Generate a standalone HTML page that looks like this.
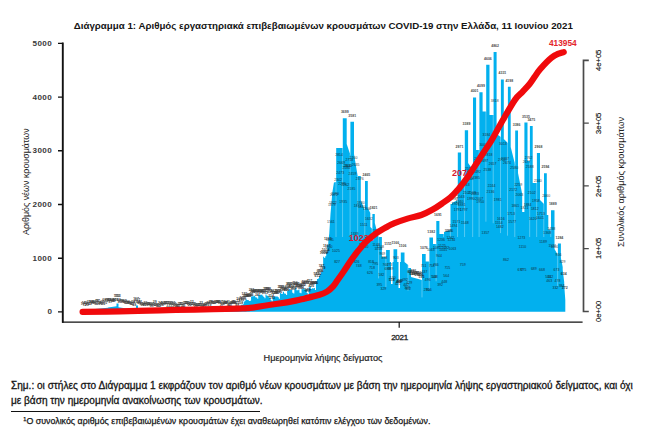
<!DOCTYPE html>
<html><head><meta charset="utf-8">
<style>
html,body{margin:0;padding:0;background:#fff;}
body{width:655px;height:436px;position:relative;overflow:hidden;font-family:"Liberation Sans",sans-serif;color:#151515;}
.t{position:absolute;white-space:nowrap;line-height:1;}
svg{position:absolute;left:0;top:0;}
.yl{font-size:8.1px;font-weight:bold;color:#3a3a3a;letter-spacing:0.35px;}
.ry{font-size:7.6px;transform-origin:0 0;transform:rotate(-90deg);color:#111;-webkit-text-stroke:0.15px #111;}
.rot{transform-origin:0 0;transform:rotate(-90deg);}
</style></head><body>
<svg width="655" height="436" viewBox="0 0 655 436">
<path d="M82.0 311.8V311.3L95.0 309.3V311.8ZM95.0 311.8V309.0L108.0 307.8V311.8ZM108.0 311.8V307.5L116.5 306.3V311.8ZM116.5 311.8V303.6L118.5 303.6V311.8ZM118.5 311.8V307.3L128.0 308.8V311.8ZM128.0 311.8V308.8L136.0 309.3V311.8ZM136.0 311.8V305.5L138.0 305.5V311.8ZM138.0 311.8V309.5L160.0 310.5V311.8ZM160.0 311.8V310.6L200.0 310.6V311.8ZM200.0 311.8V310.6L238.0 309.2V311.8ZM328.3 311.8V241.8L329.3 233.3V311.8ZM329.3 311.8V233.0L330.5 214.0V311.8ZM330.5 311.8V214.0L332.4 192.0V311.8ZM332.4 311.8V192.0L333.9 182.8V311.8ZM333.9 311.8V182.5L336.2 182.0V311.8ZM336.2 311.8V148.1L342.8 148.1V311.8ZM342.8 311.8V118.3L346.7 118.3V311.8ZM346.7 311.8V144.0L350.4 155.0V311.8ZM350.4 311.8V121.7L354.0 121.7V311.8ZM354.0 311.8V154.0L358.0 178.0V311.8ZM358.0 311.8V176.0L360.8 176.0V311.8ZM360.8 311.8V200.0L365.0 211.0V311.8ZM365.0 311.8V181.0L367.8 181.0V311.8ZM367.8 311.8V208.0L370.3 213.0V311.8ZM370.3 311.8V227.0L372.4 229.0V311.8ZM372.4 311.8V214.0L374.8 214.0V311.8ZM374.8 311.8V223.0L378.8 238.0V311.8ZM378.8 311.8V237.0L381.9 237.0V311.8ZM381.9 311.8V257.0L386.1 257.0V311.8ZM386.1 311.8V250.0L389.8 250.0V311.8ZM389.8 311.8V262.0L391.0 262.0V311.8ZM391.0 311.8V284.0L392.6 284.0V311.8ZM392.6 311.8V262.0L393.5 262.0V311.8ZM393.5 311.8V249.2L397.2 249.2V311.8ZM397.2 311.8V262.0L398.5 262.0V311.8ZM398.5 311.8V288.0L400.0 288.0V311.8ZM400.0 311.8V262.0L400.8 262.0V311.8ZM400.8 311.8V252.4L404.5 252.4V311.8ZM404.5 311.8V262.0L408.2 265.0V311.8ZM408.2 311.8V268.0L411.0 268.0V311.8ZM411.0 311.8V277.0L422.0 280.0V311.8ZM422.0 311.8V254.0L425.7 254.0V311.8ZM425.7 311.8V261.5L429.4 261.5V311.8ZM429.4 311.8V237.6L433.0 237.6V311.8ZM433.0 311.8V244.0L436.3 244.0V311.8ZM436.3 311.8V221.0L439.4 221.0V311.8ZM439.4 311.8V234.0L444.0 234.0V311.8ZM444.0 311.8V232.0L450.5 230.0V311.8ZM450.5 311.8V204.0L452.0 204.0V311.8ZM452.0 311.8V203.0L457.8 200.0V311.8ZM457.8 311.8V152.6L461.1 152.6V311.8ZM461.1 311.8V183.0L464.8 183.0V311.8ZM464.8 311.8V130.2L468.1 130.2V311.8ZM468.1 311.8V163.0L473.0 170.0V311.8ZM473.0 311.8V97.4L476.1 97.4V311.8ZM476.1 311.8V150.0L479.4 150.0V311.8ZM479.4 311.8V92.3L482.6 92.3V311.8ZM482.6 311.8V111.6L486.2 111.6V311.8ZM486.2 311.8V64.8L489.5 64.8V311.8ZM489.5 311.8V115.0L493.6 115.0V311.8ZM493.6 311.8V51.9L496.6 51.9V311.8ZM496.6 311.8V134.0L500.9 137.0V311.8ZM500.9 311.8V79.4L503.8 79.4V311.8ZM503.8 311.8V139.0L507.9 143.0V311.8ZM507.9 311.8V86.8L510.7 86.8V311.8ZM510.7 311.8V147.0L515.2 165.0V311.8ZM515.2 311.8V130.6L518.0 130.6V311.8ZM518.0 311.8V173.0L522.2 194.0V311.8ZM522.2 311.8V212.0L524.4 212.0V311.8ZM524.4 311.8V122.5L527.5 122.5V311.8ZM527.5 311.8V161.0L529.9 161.0V311.8ZM529.9 311.8V126.1L532.7 126.1V311.8ZM532.7 311.8V183.0L536.9 183.0V311.8ZM536.9 311.8V153.1L540.0 153.1V311.8ZM540.0 311.8V200.0L544.0 204.0V311.8ZM544.0 311.8V173.3L546.8 173.3V311.8ZM546.8 311.8V215.0L548.3 215.0V311.8ZM548.3 311.8V229.5L551.0 229.5V311.8ZM551.0 311.8V210.3L554.5 210.3V311.8ZM554.5 311.8V249.0L557.9 255.0V311.8ZM557.9 311.8V243.5L560.9 243.5V311.8ZM560.9 311.8V258.0L562.7 267.0V311.8ZM562.7 311.8V270.0L564.2 282.0V311.8ZM564.2 311.8V285.0L565.3 300.0V311.8ZM237.67 311.8V307.9h1.04V311.8ZM238.70 311.8V306.4h1.04V311.8ZM239.73 311.8V306.0h1.04V311.8ZM240.76 311.8V304.8h1.04V311.8ZM241.79 311.8V304.8h1.04V311.8ZM242.82 311.8V304.3h1.04V311.8ZM243.85 311.8V301.4h1.04V311.8ZM244.88 311.8V300.6h1.04V311.8ZM245.91 311.8V299.4h1.04V311.8ZM246.94 311.8V299.9h1.04V311.8ZM247.97 311.8V300.3h1.04V311.8ZM249.00 311.8V301.1h1.04V311.8ZM250.03 311.8V300.7h1.04V311.8ZM251.06 311.8V296.7h1.04V311.8ZM252.09 311.8V296.3h1.04V311.8ZM253.12 311.8V296.3h1.04V311.8ZM254.15 311.8V295.7h1.04V311.8ZM255.18 311.8V297.2h1.04V311.8ZM256.21 311.8V297.5h1.04V311.8ZM257.24 311.8V298.8h1.04V311.8ZM258.27 311.8V294.6h1.04V311.8ZM259.30 311.8V295.4h1.04V311.8ZM260.33 311.8V295.0h1.04V311.8ZM261.36 311.8V294.5h1.04V311.8ZM262.39 311.8V295.7h1.04V311.8ZM263.42 311.8V297.1h1.04V311.8ZM264.45 311.8V298.2h1.04V311.8ZM265.48 311.8V294.6h1.04V311.8ZM266.51 311.8V295.7h1.04V311.8ZM267.54 311.8V295.8h1.04V311.8ZM268.57 311.8V297.2h1.04V311.8ZM269.60 311.8V297.9h1.04V311.8ZM270.63 311.8V300.3h1.04V311.8ZM271.66 311.8V301.5h1.04V311.8ZM272.69 311.8V296.7h1.04V311.8ZM273.72 311.8V296.8h1.04V311.8ZM274.75 311.8V296.4h1.04V311.8ZM275.78 311.8V296.4h1.04V311.8ZM276.81 311.8V296.5h1.04V311.8ZM277.84 311.8V297.2h1.04V311.8ZM278.87 311.8V298.7h1.04V311.8ZM279.90 311.8V293.0h1.04V311.8ZM280.93 311.8V293.7h1.04V311.8ZM281.96 311.8V293.7h1.04V311.8ZM282.99 311.8V291.8h1.04V311.8ZM284.02 311.8V293.4h1.04V311.8ZM285.05 311.8V293.8h1.04V311.8ZM286.08 311.8V294.9h1.04V311.8ZM287.11 311.8V290.7h1.04V311.8ZM288.14 311.8V290.5h1.04V311.8ZM289.17 311.8V289.0h1.04V311.8ZM290.20 311.8V290.1h1.04V311.8ZM291.23 311.8V289.7h1.04V311.8ZM292.26 311.8V292.8h1.04V311.8ZM293.29 311.8V293.6h1.04V311.8ZM294.32 311.8V289.5h1.04V311.8ZM295.35 311.8V287.9h1.04V311.8ZM296.38 311.8V290.3h1.04V311.8ZM297.41 311.8V290.2h1.04V311.8ZM298.44 311.8V289.6h1.04V311.8ZM299.47 311.8V292.8h1.04V311.8ZM300.50 311.8V293.3h1.04V311.8ZM301.53 311.8V288.7h1.04V311.8ZM302.56 311.8V289.2h1.04V311.8ZM303.59 311.8V288.3h1.04V311.8ZM304.62 311.8V289.8h1.04V311.8ZM305.65 311.8V289.4h1.04V311.8ZM306.68 311.8V293.0h1.04V311.8ZM307.71 311.8V294.8h1.04V311.8ZM308.74 311.8V287.2h1.04V311.8ZM309.77 311.8V286.5h1.04V311.8ZM310.80 311.8V288.9h1.04V311.8ZM311.83 311.8V288.3h1.04V311.8ZM312.86 311.8V288.5h1.04V311.8ZM313.89 311.8V287.9h1.04V311.8ZM314.92 311.8V290.0h1.04V311.8ZM315.95 311.8V281.2h1.04V311.8ZM316.98 311.8V279.0h1.04V311.8ZM318.01 311.8V278.5h1.04V311.8ZM319.04 311.8V275.9h1.04V311.8ZM320.07 311.8V274.0h1.04V311.8ZM321.10 311.8V271.7h1.04V311.8ZM322.13 311.8V271.6h1.04V311.8ZM323.16 311.8V256.8h1.04V311.8ZM324.19 311.8V258.0h1.04V311.8ZM325.22 311.8V256.3h1.04V311.8ZM326.25 311.8V252.3h1.04V311.8ZM327.28 311.8V245.0h1.04V311.8ZM328.31 311.8V246.8h1.04V311.8Z" fill="#02b0ee"/>
<g fill="#fff" opacity="0.36"><rect x="335.55" y="181.7" width="0.9" height="55.3"/><rect x="342.15" y="147.6" width="0.9" height="89.4"/><rect x="349.65" y="153.9" width="0.9" height="83.1"/><rect x="357.25" y="176.3" width="0.9" height="60.7"/><rect x="364.35" y="210.2" width="0.9" height="26.8"/><rect x="371.65" y="228.3" width="0.9" height="8.7"/><rect x="378.15" y="237.1" width="0.9" height="41.3"/><rect x="385.45" y="256.5" width="0.9" height="30.6"/><rect x="407.55" y="264.4" width="0.9" height="26.3"/><rect x="421.55" y="279.3" width="0.9" height="18.1"/><rect x="428.75" y="261.0" width="0.9" height="28.2"/><rect x="435.65" y="243.5" width="0.9" height="37.8"/><rect x="443.15" y="233.5" width="0.9" height="3.5"/><rect x="449.85" y="229.7" width="0.9" height="7.3"/><rect x="457.15" y="199.9" width="0.9" height="37.1"/><rect x="464.15" y="182.5" width="0.9" height="54.5"/><rect x="472.25" y="169.2" width="0.9" height="67.8"/><rect x="478.65" y="149.5" width="0.9" height="87.5"/><rect x="485.45" y="111.1" width="0.9" height="110.6"/><rect x="492.75" y="114.5" width="0.9" height="108.7"/><rect x="500.05" y="136.3" width="0.9" height="96.8"/><rect x="507.05" y="142.2" width="0.9" height="93.5"/><rect x="514.35" y="163.3" width="0.9" height="73.7"/><rect x="529.25" y="160.5" width="0.9" height="76.5"/><rect x="536.25" y="182.5" width="0.9" height="54.5"/><rect x="543.35" y="203.4" width="0.9" height="33.6"/><rect x="550.35" y="229.0" width="0.9" height="8.0"/><rect x="557.25" y="254.3" width="0.9" height="31.8"/></g>
<g font-family="Liberation Sans" font-size="3.5" text-anchor="middle" fill="#151515" opacity="0.82"><text x="344.8" y="113.3" font-weight="bold" fill="#222" opacity="1">3699</text><text x="352.2" y="116.7" font-weight="bold" fill="#222" opacity="1">3581</text><text x="366.4" y="176.0" font-weight="bold" fill="#222" opacity="1">2465</text><text x="373.6" y="209.0" font-weight="bold" fill="#222" opacity="1">1821</text><text x="388.0" y="245.0" font-weight="bold" fill="#222" opacity="1">1151</text><text x="395.4" y="244.2" font-weight="bold" fill="#222" opacity="1">1166</text><text x="402.6" y="247.4" font-weight="bold" fill="#222" opacity="1">1106</text><text x="423.9" y="249.0" font-weight="bold" fill="#222" opacity="1">1076</text><text x="431.2" y="232.6" font-weight="bold" fill="#222" opacity="1">1382</text><text x="437.9" y="216.0" font-weight="bold" fill="#222" opacity="1">1691</text><text x="459.5" y="147.6" font-weight="bold" fill="#222" opacity="1">2971</text><text x="466.5" y="125.2" font-weight="bold" fill="#222" opacity="1">3389</text><text x="474.6" y="92.4" font-weight="bold" fill="#222" opacity="1">4001</text><text x="481.0" y="87.3" font-weight="bold" fill="#222" opacity="1">4099</text><text x="487.9" y="59.8" font-weight="bold" fill="#222" opacity="1">4606</text><text x="495.1" y="46.9" font-weight="bold" fill="#222" opacity="1">4862</text><text x="502.4" y="74.4" font-weight="bold" fill="#222" opacity="1">4331</text><text x="509.3" y="81.8" font-weight="bold" fill="#222" opacity="1">4198</text><text x="516.6" y="125.6" font-weight="bold" fill="#222" opacity="1">3386</text><text x="526.0" y="117.5" font-weight="bold" fill="#222" opacity="1">3535</text><text x="531.3" y="121.1" font-weight="bold" fill="#222" opacity="1">3475</text><text x="538.5" y="148.1" font-weight="bold" fill="#222" opacity="1">2968</text><text x="545.4" y="168.3" font-weight="bold" fill="#222" opacity="1">2594</text><text x="552.8" y="205.3" font-weight="bold" fill="#222" opacity="1">1889</text><text x="559.4" y="238.5" font-weight="bold" fill="#222" opacity="1">1284</text><text x="82.7" y="305.3" font-weight="bold">11</text><text x="83.7" y="304.4" font-weight="bold">14</text><text x="84.7" y="306.3" font-weight="bold">17</text><text x="85.8" y="303.8" font-weight="bold">20</text><text x="86.8" y="305.5" font-weight="bold">23</text><text x="87.8" y="304.7" font-weight="bold">26</text><text x="88.8" y="303.3" font-weight="bold">29</text><text x="89.9" y="304.9" font-weight="bold">32</text><text x="90.9" y="302.9" font-weight="bold">35</text><text x="91.9" y="304.3" font-weight="bold">38</text><text x="93.0" y="302.7" font-weight="bold">41</text><text x="94.0" y="302.6" font-weight="bold">44</text><text x="95.0" y="303.5" font-weight="bold">52</text><text x="96.1" y="305.0" font-weight="bold">54</text><text x="97.1" y="302.1" font-weight="bold">56</text><text x="98.1" y="302.4" font-weight="bold">57</text><text x="99.1" y="303.9" font-weight="bold">59</text><text x="100.2" y="305.1" font-weight="bold">61</text><text x="101.2" y="303.5" font-weight="bold">63</text><text x="102.2" y="302.7" font-weight="bold">65</text><text x="103.3" y="304.9" font-weight="bold">66</text><text x="104.3" y="301.1" font-weight="bold">68</text><text x="105.3" y="304.3" font-weight="bold">70</text><text x="106.4" y="301.9" font-weight="bold">72</text><text x="107.4" y="301.2" font-weight="bold">73</text><text x="108.4" y="300.7" font-weight="bold">81</text><text x="109.4" y="301.3" font-weight="bold">84</text><text x="110.5" y="303.2" font-weight="bold">87</text><text x="111.5" y="300.5" font-weight="bold">89</text><text x="112.5" y="302.0" font-weight="bold">92</text><text x="113.6" y="302.1" font-weight="bold">95</text><text x="114.6" y="300.9" font-weight="bold">97</text><text x="115.6" y="301.4" font-weight="bold">100</text><text x="116.7" y="296.7" font-weight="bold">153</text><text x="117.7" y="296.6" font-weight="bold">153</text><text x="118.7" y="301.0" font-weight="bold">83</text><text x="119.7" y="303.0" font-weight="bold">80</text><text x="120.8" y="302.2" font-weight="bold">77</text><text x="121.8" y="301.9" font-weight="bold">74</text><text x="122.8" y="303.1" font-weight="bold">71</text><text x="123.9" y="302.8" font-weight="bold">68</text><text x="124.9" y="302.3" font-weight="bold">65</text><text x="125.9" y="304.4" font-weight="bold">62</text><text x="127.0" y="304.2" font-weight="bold">59</text><text x="128.0" y="302.6" font-weight="bold">56</text><text x="129.0" y="304.0" font-weight="bold">55</text><text x="130.0" y="303.8" font-weight="bold">53</text><text x="131.1" y="305.3" font-weight="bold">52</text><text x="132.1" y="304.8" font-weight="bold">51</text><text x="133.1" y="303.1" font-weight="bold">50</text><text x="134.2" y="305.9" font-weight="bold">49</text><text x="135.2" y="302.5" font-weight="bold">47</text><text x="136.2" y="300.0" font-weight="bold">117</text><text x="137.3" y="301.3" font-weight="bold">117</text><text x="138.3" y="302.9" font-weight="bold">43</text><text x="139.3" y="304.3" font-weight="bold">42</text><text x="140.3" y="302.6" font-weight="bold">41</text><text x="141.4" y="305.1" font-weight="bold">40</text><text x="142.4" y="305.6" font-weight="bold">39</text><text x="143.4" y="304.8" font-weight="bold">38</text><text x="144.5" y="306.1" font-weight="bold">37</text><text x="145.5" y="303.9" font-weight="bold">36</text><text x="146.5" y="305.5" font-weight="bold">36</text><text x="147.6" y="305.1" font-weight="bold">35</text><text x="148.6" y="305.1" font-weight="bold">34</text><text x="149.6" y="304.7" font-weight="bold">33</text><text x="150.6" y="306.2" font-weight="bold">32</text><text x="151.7" y="306.7" font-weight="bold">31</text><text x="152.7" y="304.9" font-weight="bold">30</text><text x="153.7" y="305.7" font-weight="bold">30</text><text x="154.8" y="303.3" font-weight="bold">29</text><text x="155.8" y="305.9" font-weight="bold">28</text><text x="156.8" y="305.7" font-weight="bold">27</text><text x="157.9" y="307.2" font-weight="bold">26</text><text x="158.9" y="306.5" font-weight="bold">25</text><text x="159.9" y="304.4" font-weight="bold">24</text><text x="160.9" y="304.9" font-weight="bold">22</text><text x="162.0" y="306.1" font-weight="bold">22</text><text x="163.0" y="303.5" font-weight="bold">22</text><text x="164.0" y="305.2" font-weight="bold">22</text><text x="165.1" y="304.1" font-weight="bold">22</text><text x="166.1" y="303.9" font-weight="bold">22</text><text x="167.1" y="303.6" font-weight="bold">22</text><text x="168.2" y="306.5" font-weight="bold">22</text><text x="169.2" y="303.9" font-weight="bold">22</text><text x="170.2" y="304.4" font-weight="bold">22</text><text x="171.2" y="305.0" font-weight="bold">22</text><text x="172.3" y="306.9" font-weight="bold">22</text><text x="173.3" y="303.7" font-weight="bold">22</text><text x="174.3" y="305.2" font-weight="bold">22</text><text x="175.4" y="305.6" font-weight="bold">22</text><text x="176.4" y="306.9" font-weight="bold">22</text><text x="177.4" y="306.7" font-weight="bold">22</text><text x="178.5" y="306.9" font-weight="bold">22</text><text x="179.5" y="304.5" font-weight="bold">22</text><text x="180.5" y="305.1" font-weight="bold">22</text><text x="181.5" y="304.8" font-weight="bold">22</text><text x="182.6" y="306.9" font-weight="bold">22</text><text x="183.6" y="307.2" font-weight="bold">22</text><text x="184.6" y="304.0" font-weight="bold">22</text><text x="185.7" y="304.1" font-weight="bold">22</text><text x="186.7" y="304.3" font-weight="bold">22</text><text x="187.7" y="304.3" font-weight="bold">22</text><text x="188.8" y="305.3" font-weight="bold">22</text><text x="189.8" y="305.8" font-weight="bold">22</text><text x="190.8" y="304.5" font-weight="bold">22</text><text x="191.8" y="303.4" font-weight="bold">22</text><text x="192.9" y="305.1" font-weight="bold">22</text><text x="193.9" y="304.9" font-weight="bold">22</text><text x="194.9" y="305.7" font-weight="bold">22</text><text x="196.0" y="307.2" font-weight="bold">22</text><text x="197.0" y="306.2" font-weight="bold">22</text><text x="198.0" y="305.5" font-weight="bold">22</text><text x="199.1" y="305.9" font-weight="bold">22</text><text x="200.1" y="306.1" font-weight="bold">22</text><text x="201.1" y="303.6" font-weight="bold">23</text><text x="202.1" y="306.9" font-weight="bold">24</text><text x="203.2" y="306.4" font-weight="bold">25</text><text x="204.2" y="306.7" font-weight="bold">25</text><text x="205.2" y="306.4" font-weight="bold">26</text><text x="206.3" y="304.7" font-weight="bold">27</text><text x="207.3" y="304.7" font-weight="bold">27</text><text x="208.3" y="303.5" font-weight="bold">28</text><text x="209.4" y="305.6" font-weight="bold">29</text><text x="210.4" y="303.3" font-weight="bold">29</text><text x="211.4" y="303.2" font-weight="bold">30</text><text x="212.4" y="303.8" font-weight="bold">31</text><text x="213.5" y="303.6" font-weight="bold">32</text><text x="214.5" y="304.2" font-weight="bold">32</text><text x="215.5" y="303.0" font-weight="bold">33</text><text x="216.6" y="302.8" font-weight="bold">34</text><text x="217.6" y="303.4" font-weight="bold">34</text><text x="218.6" y="303.1" font-weight="bold">35</text><text x="219.7" y="304.1" font-weight="bold">36</text><text x="220.7" y="302.7" font-weight="bold">37</text><text x="221.7" y="306.1" font-weight="bold">37</text><text x="222.7" y="305.0" font-weight="bold">38</text><text x="223.8" y="303.1" font-weight="bold">39</text><text x="224.8" y="303.5" font-weight="bold">39</text><text x="225.8" y="303.8" font-weight="bold">40</text><text x="226.9" y="303.9" font-weight="bold">41</text><text x="227.9" y="302.9" font-weight="bold">41</text><text x="228.9" y="305.7" font-weight="bold">42</text><text x="230.0" y="306.3" font-weight="bold">43</text><text x="231.0" y="304.1" font-weight="bold">44</text><text x="232.0" y="304.2" font-weight="bold">44</text><text x="233.0" y="302.5" font-weight="bold">45</text><text x="234.1" y="302.6" font-weight="bold">46</text><text x="235.1" y="303.5" font-weight="bold">46</text><text x="236.1" y="304.1" font-weight="bold">47</text><text x="237.2" y="306.3" font-weight="bold">48</text><text x="238.2" y="302.4" font-weight="bold">72</text><text x="239.2" y="300.3" font-weight="bold">101</text><text x="240.3" y="303.6" font-weight="bold">108</text><text x="241.3" y="300.8" font-weight="bold">130</text><text x="242.3" y="299.1" font-weight="bold">131</text><text x="243.3" y="300.3" font-weight="bold">139</text><text x="244.4" y="295.3" font-weight="bold">193</text><text x="245.4" y="296.5" font-weight="bold">209</text><text x="246.4" y="297.1" font-weight="bold">230</text><text x="247.5" y="297.1" font-weight="bold">222</text><text x="248.5" y="296.9" font-weight="bold">214</text><text x="249.5" y="295.9" font-weight="bold">200</text><text x="250.6" y="296.0" font-weight="bold">206</text><text x="251.6" y="291.2" font-weight="bold">281</text><text x="252.6" y="293.2" font-weight="bold">288</text><text x="253.6" y="292.3" font-weight="bold">288</text><text x="254.7" y="292.6" font-weight="bold">300</text><text x="255.7" y="292.3" font-weight="bold">272</text><text x="256.7" y="292.2" font-weight="bold">266</text><text x="257.8" y="295.9" font-weight="bold">241</text><text x="258.8" y="292.4" font-weight="bold">320</text><text x="259.8" y="292.6" font-weight="bold">305</text><text x="260.9" y="292.0" font-weight="bold">312</text><text x="261.9" y="291.6" font-weight="bold">321</text><text x="262.9" y="292.5" font-weight="bold">299</text><text x="263.9" y="291.8" font-weight="bold">274</text><text x="265.0" y="294.1" font-weight="bold">253</text><text x="266.0" y="289.8" font-weight="bold">320</text><text x="267.0" y="289.6" font-weight="bold">300</text><text x="268.1" y="289.7" font-weight="bold">298</text><text x="269.1" y="292.1" font-weight="bold">272</text><text x="270.1" y="292.7" font-weight="bold">259</text><text x="271.1" y="296.9" font-weight="bold">214</text><text x="272.2" y="299.1" font-weight="bold">192</text><text x="273.2" y="292.3" font-weight="bold">282</text><text x="274.2" y="294.4" font-weight="bold">279</text><text x="275.3" y="294.2" font-weight="bold">286</text><text x="276.3" y="294.1" font-weight="bold">286</text><text x="277.3" y="291.7" font-weight="bold">285</text><text x="278.4" y="291.9" font-weight="bold">272</text><text x="279.4" y="293.4" font-weight="bold">245</text><text x="280.4" y="287.6" font-weight="bold">351</text><text x="281.4" y="288.3" font-weight="bold">337</text><text x="282.5" y="290.0" font-weight="bold">338</text><text x="283.5" y="289.2" font-weight="bold">372</text><text x="284.5" y="290.5" font-weight="bold">343</text><text x="285.6" y="289.5" font-weight="bold">335</text><text x="286.6" y="291.3" font-weight="bold">316</text><text x="287.6" y="287.7" font-weight="bold">393</text><text x="288.7" y="284.7" font-weight="bold">396</text><text x="289.7" y="285.4" font-weight="bold">425</text><text x="290.7" y="287.6" font-weight="bold">403</text><text x="291.7" y="286.6" font-weight="bold">412</text><text x="292.8" y="289.6" font-weight="bold">353</text><text x="293.8" y="289.3" font-weight="bold">339</text><text x="294.8" y="284.0" font-weight="bold">416</text><text x="295.9" y="284.9" font-weight="bold">444</text><text x="296.9" y="285.4" font-weight="bold">400</text><text x="297.9" y="287.2" font-weight="bold">403</text><text x="299.0" y="287.3" font-weight="bold">414</text><text x="300.0" y="288.1" font-weight="bold">355</text><text x="301.0" y="288.7" font-weight="bold">344</text><text x="302.0" y="286.3" font-weight="bold">430</text><text x="303.1" y="285.9" font-weight="bold">422</text><text x="304.1" y="282.8" font-weight="bold">438</text><text x="305.1" y="284.2" font-weight="bold">409</text><text x="306.2" y="283.8" font-weight="bold">417</text><text x="307.2" y="290.5" font-weight="bold">349</text><text x="308.2" y="291.8" font-weight="bold">317</text><text x="309.3" y="281.6" font-weight="bold">457</text><text x="310.3" y="283.6" font-weight="bold">470</text><text x="311.3" y="286.7" font-weight="bold">426</text><text x="312.3" y="284.7" font-weight="bold">437</text><text x="313.4" y="283.7" font-weight="bold">434</text><text x="314.4" y="283.9" font-weight="bold">445</text><text x="315.4" y="284.3" font-weight="bold">406</text><text x="316.5" y="275.1" font-weight="bold">570</text><text x="317.5" y="276.6" font-weight="bold">612</text><text x="318.5" y="274.9" font-weight="bold">620</text><text x="319.6" y="271.8" font-weight="bold">669</text><text x="320.6" y="271.5" font-weight="bold">704</text><text x="321.6" y="267.2" font-weight="bold">747</text><text x="322.6" y="268.9" font-weight="bold">749</text><text x="323.7" y="253.9" font-weight="bold">1024</text><text x="324.7" y="252.6" font-weight="bold">1002</text><text x="325.7" y="251.1" font-weight="bold">1034</text><text x="326.8" y="247.3" font-weight="bold">1107</text><text x="327.8" y="239.8" font-weight="bold">1243</text><text x="328.8" y="248.1">1100</text><text x="329.9" y="240.9">1235</text><text x="330.9" y="223.4">1561</text><text x="331.9" y="206.3">1879</text><text x="332.9" y="204.0">1922</text><text x="334.0" y="195.9">2072</text><text x="335.0" y="194.9">2090</text><text x="336.0" y="252.2">1025</text><text x="337.1" y="262.8">827</text><text x="338.1" y="181.4">2342</text><text x="339.1" y="156.1">2814</text><text x="340.2" y="174.4">2473</text><text x="341.2" y="163.9">2669</text><text x="342.2" y="184.5">2285</text><text x="343.2" y="203.3">1935</text><text x="345.3" y="185.7">2262</text><text x="346.3" y="168.7">2580</text><text x="347.4" y="167.2">2606</text><text x="348.4" y="167.0">2611</text><text x="349.4" y="161.3">2718</text><text x="351.5" y="189.8">2185</text><text x="352.5" y="175.1">2459</text><text x="353.5" y="159.0">2760</text><text x="354.6" y="235.3">1339</text><text x="355.6" y="165.7">2635</text><text x="356.6" y="262.8">826</text><text x="357.7" y="206.7">1872</text><text x="358.7" y="267.1">748</text><text x="359.7" y="179.6">2376</text><text x="360.8" y="203.6">1930</text><text x="361.8" y="208.4">1840</text><text x="362.8" y="245.5">1148</text><text x="363.8" y="226.1">1511</text><text x="364.9" y="247.6">1110</text><text x="366.9" y="210.2">1806</text><text x="369.0" y="219.6">1632</text><text x="370.0" y="273.6">626</text><text x="371.1" y="263.2">818</text><text x="372.1" y="268.7">718</text><text x="375.2" y="264.5">795</text><text x="376.2" y="245.6">1148</text><text x="377.2" y="232.3">1395</text><text x="378.3" y="250.4">1058</text><text x="379.3" y="286.0">395</text><text x="380.3" y="247.7">1108</text><text x="381.4" y="275.9">582</text><text x="382.4" y="255.2">969</text><text x="383.4" y="289.5">329</text><text x="384.4" y="259.0">898</text><text x="385.5" y="266.4">760</text><text x="387.5" y="270.2">689</text><text x="389.6" y="265.7">773</text><text x="390.6" y="270.2">689</text><text x="391.7" y="281.2" font-weight="bold">518</text><text x="392.7" y="278.7">530</text><text x="395.8" y="258.7">903</text><text x="397.8" y="284.6">421</text><text x="398.9" y="282.8" font-weight="bold">443</text><text x="399.9" y="282.2" font-weight="bold">443</text><text x="405.0" y="280.8">492</text><text x="406.1" y="285.6">402</text><text x="407.1" y="288.5">348</text><text x="408.1" y="290.4">312</text><text x="409.2" y="284.1">429</text><text x="410.2" y="273.3">631</text><text x="411.2" y="272.8" font-weight="bold">647</text><text x="412.3" y="274.9" font-weight="bold">642</text><text x="413.3" y="271.8" font-weight="bold">636</text><text x="414.3" y="275.0" font-weight="bold">631</text><text x="415.3" y="273.7" font-weight="bold">626</text><text x="416.4" y="274.2" font-weight="bold">621</text><text x="417.4" y="275.9" font-weight="bold">615</text><text x="418.4" y="274.4" font-weight="bold">610</text><text x="419.5" y="275.1" font-weight="bold">605</text><text x="420.5" y="276.1" font-weight="bold">600</text><text x="421.5" y="277.6" font-weight="bold">595</text><text x="423.6" y="266.9">751</text><text x="424.6" y="273.0">637</text><text x="426.7" y="291.3">295</text><text x="427.7" y="280.6">496</text><text x="428.7" y="290.7">306</text><text x="430.8" y="251.2">1043</text><text x="431.8" y="266.5">758</text><text x="433.9" y="278.0">544</text><text x="434.9" y="278.3">538</text><text x="435.9" y="266.1">766</text><text x="437.0" y="249.0">1085</text><text x="439.0" y="256.5">944</text><text x="440.1" y="286.2">392</text><text x="441.1" y="240.8">1236</text><text x="442.1" y="246.8">1125</text><text x="443.2" y="251.1">1045</text><text x="444.2" y="283.1">448</text><text x="445.2" y="248.5">1092</text><text x="446.2" y="276.9">564</text><text x="447.3" y="268.8">715</text><text x="448.3" y="231.7">1405</text><text x="449.3" y="232.2">1396</text><text x="450.4" y="239.4">1262</text><text x="451.4" y="240.9">1234</text><text x="452.4" y="250.1">1063</text><text x="453.5" y="227.0">1494</text><text x="454.5" y="200.4">1988</text><text x="455.5" y="204.8">1906</text><text x="456.5" y="222.8">1571</text><text x="457.6" y="211.0">1791</text><text x="458.6" y="190.7">2169</text><text x="459.6" y="203.0">1940</text><text x="460.7" y="197.5">2043</text><text x="461.7" y="206.2">1881</text><text x="462.7" y="266.4">759</text><text x="463.8" y="210.7">1797</text><text x="464.8" y="224.1">1548</text><text x="465.8" y="185.7">2263</text><text x="466.8" y="194.4">2101</text><text x="468.9" y="170.0">2556</text><text x="469.9" y="180.1">2368</text><text x="471.0" y="200.3">1990</text><text x="472.0" y="194.0">2109</text><text x="475.1" y="195.3">2083</text><text x="476.1" y="179.1">2385</text><text x="477.1" y="173.4">2492</text><text x="478.2" y="159.7">2746</text><text x="479.2" y="199.5">2007</text><text x="480.2" y="202.5">1950</text><text x="483.3" y="146.0">3002</text><text x="484.4" y="162.4">2697</text><text x="485.4" y="234.3">1357</text><text x="486.4" y="136.2">3184</text><text x="487.4" y="170.9">2538</text><text x="488.5" y="155.9">2818</text><text x="490.5" y="192.5">2136</text><text x="491.6" y="186.7">2244</text><text x="492.6" y="164.5">2657</text><text x="494.7" y="102.2">3818</text><text x="497.7" y="200.8">1981</text><text x="498.8" y="223.7">1554</text><text x="499.8" y="227.6">1482</text><text x="500.8" y="220.4">1616</text><text x="501.9" y="161.2">2718</text><text x="502.9" y="145.4">3013</text><text x="505.0" y="160.2">2737</text><text x="506.0" y="260.9">862</text><text x="507.0" y="163.6">2674</text><text x="511.1" y="215.2">1713</text><text x="512.2" y="222.5">1577</text><text x="513.2" y="190.5">2172</text><text x="514.2" y="168.6">2580</text><text x="515.3" y="207.3">1861</text><text x="518.3" y="185.9">2259</text><text x="519.4" y="196.4">2063</text><text x="520.4" y="270.8">677</text><text x="521.4" y="238.8">1273</text><text x="522.5" y="247.6">1110</text><text x="523.5" y="271.0">675</text><text x="524.5" y="209.4">1821</text><text x="526.6" y="163.4">2677</text><text x="527.6" y="206.0">1884</text><text x="528.6" y="158.9">2762</text><text x="529.7" y="168.2">2588</text><text x="531.7" y="194.3">2102</text><text x="532.8" y="220.2">1620</text><text x="533.8" y="270.2">689</text><text x="534.8" y="209.9">1812</text><text x="535.9" y="202.1">1958</text><text x="537.9" y="181.6">2340</text><text x="540.0" y="219.1">1641</text><text x="541.0" y="215.2">1713</text><text x="542.0" y="271.4">668</text><text x="543.1" y="243.4">1189</text><text x="546.2" y="196.6">2060</text><text x="547.2" y="233.7">1368</text><text x="548.2" y="278.0">544</text><text x="549.2" y="282.4">463</text><text x="550.3" y="277.5">552</text><text x="551.3" y="230.0">1438</text><text x="552.3" y="246.9">1124</text><text x="554.4" y="248.1">1100</text><text x="555.4" y="289.4">332</text><text x="556.5" y="271.1">673</text><text x="557.5" y="281.5">478</text><text x="558.5" y="255.8">956</text><text x="561.6" y="286.6">384</text><text x="562.6" y="262.7">829</text><text x="563.7" y="275.0" font-weight="bold">634</text><text x="564.7" y="289.1" font-weight="bold">372</text></g>
<g stroke="#111" fill="none">
<path d="M62.8 42.6V322.7" stroke-width="1.9"/>
<path d="M62 322.1H582.6" stroke-width="1.3"/>
<path d="M58 43.4H62.8M58 97.1H62.8M58 150.8H62.8M58 204.5H62.8M58 258.2H62.8M58 311.9H62.8" stroke-width="1.4"/>
<path d="M399.2 322V327.7" stroke-width="1.2"/>
</g>
<g stroke="#4a4a4a" stroke-width="1.7" fill="none">
<path d="M588.8 60.3H583.5V311.5H588.8" />
<path d="M583.4 123.1H588.8M583.4 185.9H588.8M583.4 248.7H588.8" stroke-width="1.3"/>
</g>
<text x="348.8" y="241" font-size="9" font-weight="bold" fill="#d61a30" font-family="Liberation Sans">10233</text>
<text x="451.9" y="176.1" font-size="9" font-weight="bold" fill="#d61a30" font-family="Liberation Sans">2072</text>
<path d="M82.6 311.9C88.8 311.8 107.1 311.6 120 311.3C132.9 311.0 147.5 310.6 160 310.3C172.5 310.0 182.0 309.9 195 309.6C208.0 309.3 228.8 308.9 238 308.6C247.2 308.3 243.4 308.6 250 307.8C256.6 307.0 269.9 305.0 277.5 303.8C285.1 302.6 291.1 301.5 295.7 300.6C300.3 299.7 301.1 299.3 305 298.4C308.9 297.5 315.1 296.1 318.8 295C322.5 293.9 324.6 293.0 327 291.6C329.4 290.2 331.3 288.3 333 286.5C334.7 284.7 335.5 283.2 337.3 280.6C339.1 278.0 341.7 274.3 344 271C346.3 267.7 348.6 263.9 350.9 260.6C353.2 257.3 355.3 254.4 357.8 251.3C360.3 248.2 362.8 244.9 366 241.8C369.2 238.7 373.3 235.4 377 232.8C380.7 230.2 385.2 227.8 388 226.2C390.8 224.6 390.6 224.7 393.8 223.4C397.1 222.1 402.9 220.0 407.5 218.6C412.1 217.2 417.2 216.5 421.3 215C425.4 213.5 428.9 211.7 432.3 209.8C435.7 207.9 438.9 205.7 441.9 203.6C444.9 201.5 447.7 199.7 450.5 197.3C453.3 194.9 455.6 192.4 458.5 189C461.4 185.6 464.5 181.6 467.7 177C470.9 172.4 474.7 166.2 477.8 161.5C480.9 156.8 483.8 152.1 486.1 148.6C488.4 145.1 488.8 145.1 491.6 140.3C494.4 135.5 499.1 126.6 503 119.8C506.9 113.0 511.8 104.3 515.1 99.6C518.4 94.9 520.3 94.2 522.7 91.6C525.1 89.0 527.7 86.4 529.6 84C531.5 81.6 532.7 79.5 534.4 77.1C536.1 74.7 537.8 72.1 539.9 69.6C542.0 67.1 544.3 64.4 546.8 62C549.3 59.6 552.2 56.9 555 55.3C557.8 53.6 562.2 52.6 563.7 52.1" fill="none" stroke="#f00a0c" stroke-width="6.2" stroke-linecap="round" stroke-linejoin="round"/>
</svg>
<div class="t" id="title" style="left:73.8px;top:21px;font-size:9.72px;font-weight:bold;">Διάγραμμα 1: Αριθμός εργαστηριακά επιβεβαιωμένων κρουσμάτων COVID-19 στην Ελλάδα, 11 Ιουνίου 2021</div>
<div class="t yl" style="left:32.6px;top:39.9px;">5000</div>
<div class="t yl" style="left:32.6px;top:93.6px;">4000</div>
<div class="t yl" style="left:32.6px;top:147.3px;">3000</div>
<div class="t yl" style="left:32.6px;top:201.0px;">2000</div>
<div class="t yl" style="left:32.6px;top:254.7px;">1000</div>
<div class="t yl" style="left:47.6px;top:308.4px;">0</div>
<div class="t" style="left:391.2px;top:334px;font-size:8.1px;letter-spacing:-0.35px;color:#222;-webkit-text-stroke:0.3px #222;">2021</div>
<div class="t" style="left:263.6px;top:353.7px;font-size:9.18px;color:#222;-webkit-text-stroke:0.2px #222;">Ημερομηνία λήψης δείγματος</div>
<div class="t" id="n1" style="left:11px;top:380.9px;font-size:10.07px;-webkit-text-stroke:0.3px #151515;">Σημ.: οι στήλες στο Διάγραμμα 1 εκφράζουν τον αριθμό νέων κρουσμάτων με βάση την ημερομηνία λήψης εργαστηριακού δείγματος, και όχι</div>
<div class="t" id="n2" style="left:11px;top:395.6px;font-size:10.07px;-webkit-text-stroke:0.3px #151515;">με βάση την ημερομηνία ανακοίνωσης των κρουσμάτων.</div>
<div style="position:absolute;left:11px;top:410.5px;width:249px;height:1.2px;background:#111;"></div>
<div class="t" id="n3" style="left:23.3px;top:416.6px;font-size:8.85px;-webkit-text-stroke:0.25px #151515;"><span style="font-size:5.6px;position:relative;top:-3px;">1</span>Ο συνολικός αριθμός επιβεβαιωμένων κρουσμάτων έχει αναθεωρηθεί κατόπιν ελέγχου των δεδομένων.</div>
<div class="t rot" style="left:21.6px;top:234.8px;font-size:8.9px;color:#222;">Αριθμός νέων κρουσμάτων</div>
<div class="t rot" style="left:616.5px;top:246.5px;font-size:9.2px;color:#222;">Συνολικός αριθμός κρουσμάτων</div>
<div class="t ry" style="left:595px;top:71px;">4e+05</div>
<div class="t ry" style="left:595px;top:133.8px;">3e+05</div>
<div class="t ry" style="left:595px;top:196.6px;">2e+05</div>
<div class="t ry" style="left:595px;top:259.4px;">1e+05</div>
<div class="t ry" style="left:595px;top:322.2px;">0e+00</div>
<div class="t" style="left:549px;top:38.6px;font-size:8.3px;font-weight:bold;color:#e3242b;">413954</div>
</body></html>
